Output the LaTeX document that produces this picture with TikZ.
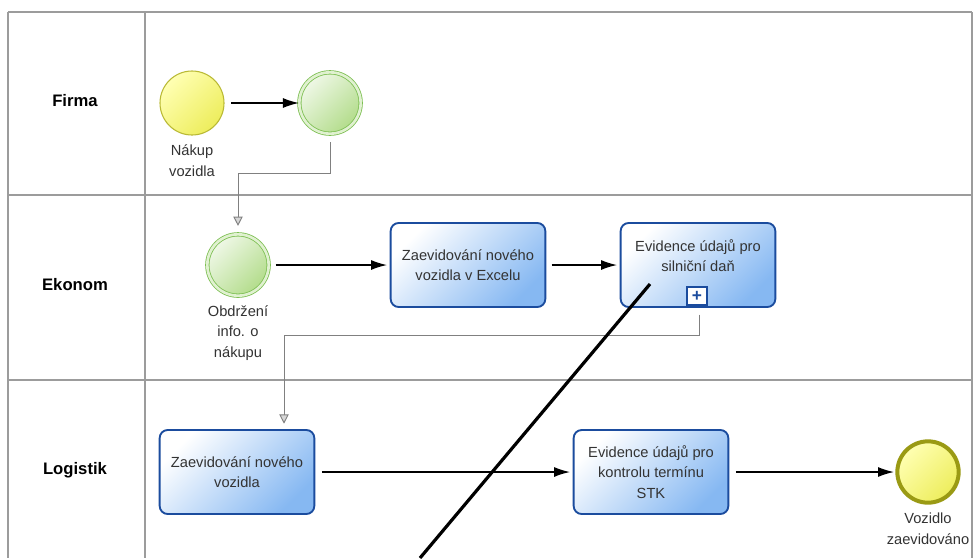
\documentclass[tikz,border=0pt]{standalone}
\usepackage{fontspec}
\setmainfont{Liberation Sans}
\usetikzlibrary{arrows.meta}
\usetikzlibrary{calc}
\definecolor{lanegray}{HTML}{9C9C9C}
\definecolor{taskblue}{HTML}{86B8F2}
\definecolor{taskborder}{HTML}{1B4C9E}
\definecolor{startfill}{HTML}{EDED5C}
\definecolor{startborder}{HTML}{B9B934}
\definecolor{endborder}{HTML}{9A9A14}
\definecolor{catchfill}{HTML}{B2DC8A}
\definecolor{catchborder}{HTML}{7DBF52}
\definecolor{labeltext}{HTML}{333333}
\begin{document}
\begin{tikzpicture}[x=0.75pt,y=-0.75pt]
\tikzstyle{lane_line}=[draw=lanegray, line width=2.2pt];
\tikzstyle{lane_label}=[font=\bfseries\fontsize{12.5}{15}\selectfont];
\tikzstyle{event_label}=[align=center, text=labeltext, font=\fontsize{11}{15.6}\selectfont];
\tikzstyle{task}=[rectangle, rounded corners=6pt, draw=taskborder, line width=1.4pt, minimum width=116pt, minimum height=63pt, left color=white, right color=taskblue, shading angle=45, align=center, text=labeltext, font=\fontsize{11}{15.2}\selectfont];
\tikzstyle{start_event}=[circle, draw=startborder, line width=0.8pt, minimum size=48pt, inner sep=0pt, left color=white!70!yellow, right color=startfill, shading angle=45];
\tikzstyle{end_event}=[circle, draw=endborder, line width=3pt, minimum size=46pt, inner sep=0pt, left color=white!70!yellow, right color=startfill, shading angle=45];
\tikzstyle{catch_event}=[circle, draw=catchborder, double=catchfill!40!white, double distance=2pt, line width=0.6pt, minimum size=46pt, inner sep=0pt, left color=white!80!catchfill, right color=catchfill, shading angle=45];
\tikzstyle{flow}=[draw, line width=1.1pt, -{Latex[length=12pt,width=7.5pt]}];
\tikzstyle{message}=[draw=gray, line width=0.7pt, -{Triangle[open,length=7pt,width=7pt,fill=lanegray!40]}];
% pool and lanes
\useasboundingbox (0,0) rectangle (973,558);
\fill[white] (0,0) rectangle (973,558);
\path (8,12) -- (972,12) [lane_line];
\path (8,195) -- (972,195) [lane_line];
\path (8,380) -- (972,380) [lane_line];
\path (8,12) -- (8,558) [lane_line, line width=1.6pt];
\path (145,12) -- (145,558) [lane_line];
\path (972,12) -- (972,558) [lane_line, line width=1.2pt];
\node (firma_label) at (75,101) [lane_label] {Firma};
\node (ekonom_label) at (75,285) [lane_label] {Ekonom};
\node (logistik_label) at (75,470) [lane_label] {Logistik};
% events and tasks
\node (nakup_event) at (192,103) [start_event] {};
\node (firma_msg) at (330,103) [catch_event] {};
\node (ekonom_msg) at (238,265) [catch_event] {};
\node (excel_task) at (468,265) [task] {Zaevidování nového\\vozidla v Excelu};
\node (dan_task) at (698,265) [task] {Evidence údajů pro\\silniční daň\\[-1pt]};
\node (plus_marker) at (697,296) [rectangle, draw=taskborder, line width=1pt, fill=white, minimum width=15pt, minimum height=13.5pt, inner sep=0pt, text=taskborder, font=\bfseries\fontsize{13}{13}\selectfont] {+};
\node (logistik_task) at (237,472) [task] {Zaevidování nového\\vozidla};
\node (stk_task) at (651,472) [task] {Evidence údajů pro\\kontrolu termínu\\STK};
\node (end_event) at (928,472) [end_event] {};
\node (nakup_label) at (192,161) [event_label] {Nákup\\vozidla};
\node (ekonom_msg_label) at (238,333) [event_label] {Obdržení\\info. o\\nákupu};
\node (end_label) at (928,529) [event_label] {Vozidlo\\zaevidováno};
% connectors
\coordinate (bend_firma) at (330,173);
\coordinate (bend_ekonom) at (284,335);
\path (nakup_event) -- (firma_msg) [flow, shorten <=5pt];
\path (ekonom_msg) -- (excel_task) [flow, shorten <=5pt, shorten >=2pt];
\path (excel_task) -- (dan_task) [flow, shorten <=4pt, shorten >=2pt];
\path (logistik_task) -- (stk_task) [flow, shorten <=5pt, shorten >=2pt];
\path (stk_task) -- (end_event) [flow, shorten <=5pt, shorten >=1pt];
\path (firma_msg.south) |- (bend_firma) -| (ekonom_msg.north) [message, shorten <=6pt, shorten >=6pt];
\path ($(dan_task.south)+(1,0)$) |- (bend_ekonom) -- (bend_ekonom |- logistik_task.north) [message, shorten <=5pt, shorten >=4pt];
% stroke across the page
\coordinate (scratch_top) at (650,284);
\coordinate (scratch_bottom) at (420,558);
\path (scratch_top) -- (scratch_bottom) [draw, line width=2.4pt];
\end{tikzpicture}
\end{document}
